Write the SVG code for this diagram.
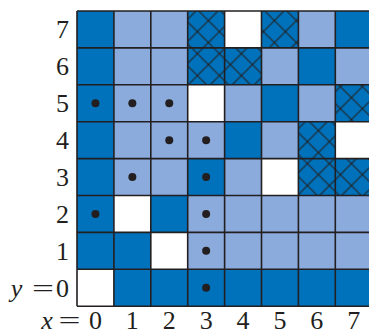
<svg xmlns="http://www.w3.org/2000/svg" width="369" height="331" viewBox="0 0 369 331">
<style>
.d{fill:#0072BC}
.l{fill:#8AABDB}
.w{fill:#FFFFFF}
.h{fill:url(#xh)}
.g{fill:none;stroke:#231F20;stroke-width:1.6}
.dot{fill:#231F20}
text{font-family:"Liberation Serif","DejaVu Serif",serif;font-size:26px;fill:#231F20}
.it{font-style:italic}
</style>
<defs>
<pattern id="xh" patternUnits="userSpaceOnUse" x="10.4" y="20.6" width="22" height="22">
<rect width="22" height="22" fill="#0072BC"/>
<path d="M-2,-2L24,24M20,-2L24,2M-2,20L2,24M-2,24L24,-2M-2,2L2,-2M20,24L24,20" stroke="#231F20" stroke-width="1.1" fill="none"/>
</pattern>
</defs>
<rect width="369" height="331" fill="#FFFFFF"/>
<g id="cells">
<!-- row 7 -->
<g id="c0-7"><rect class="d" x="77" y="11" width="36.9" height="36.9"/></g>
<g id="c1-7"><rect class="l" x="113.9" y="11" width="36.9" height="36.9"/></g>
<g id="c2-7"><rect class="l" x="150.8" y="11" width="36.9" height="36.9"/></g>
<g id="c3-7"><rect class="h" x="187.7" y="11" width="36.9" height="36.9"/></g>
<g id="c4-7"><rect class="w" x="224.6" y="11" width="36.9" height="36.9"/></g>
<g id="c5-7"><rect class="h" x="261.5" y="11" width="36.9" height="36.9"/></g>
<g id="c6-7"><rect class="l" x="298.4" y="11" width="36.9" height="36.9"/></g>
<g id="c7-7"><rect class="d" x="335.3" y="11" width="36.9" height="36.9"/></g>
<!-- row 6 -->
<g id="c0-6"><rect class="d" x="77" y="47.9" width="36.9" height="36.9"/></g>
<g id="c1-6"><rect class="l" x="113.9" y="47.9" width="36.9" height="36.9"/></g>
<g id="c2-6"><rect class="l" x="150.8" y="47.9" width="36.9" height="36.9"/></g>
<g id="c3-6"><rect class="h" x="187.7" y="47.9" width="36.9" height="36.9"/></g>
<g id="c4-6"><rect class="h" x="224.6" y="47.9" width="36.9" height="36.9"/></g>
<g id="c5-6"><rect class="l" x="261.5" y="47.9" width="36.9" height="36.9"/></g>
<g id="c6-6"><rect class="d" x="298.4" y="47.9" width="36.9" height="36.9"/></g>
<g id="c7-6"><rect class="l" x="335.3" y="47.9" width="36.9" height="36.9"/></g>
<!-- row 5 -->
<g id="c0-5"><rect class="d" x="77" y="84.8" width="36.9" height="36.9"/><circle class="dot" cx="95.45" cy="103.25" r="4"/></g>
<g id="c1-5"><rect class="l" x="113.9" y="84.8" width="36.9" height="36.9"/><circle class="dot" cx="132.35" cy="103.25" r="4"/></g>
<g id="c2-5"><rect class="l" x="150.8" y="84.8" width="36.9" height="36.9"/><circle class="dot" cx="169.25" cy="103.25" r="4"/></g>
<g id="c3-5"><rect class="w" x="187.7" y="84.8" width="36.9" height="36.9"/></g>
<g id="c4-5"><rect class="l" x="224.6" y="84.8" width="36.9" height="36.9"/></g>
<g id="c5-5"><rect class="d" x="261.5" y="84.8" width="36.9" height="36.9"/></g>
<g id="c6-5"><rect class="l" x="298.4" y="84.8" width="36.9" height="36.9"/></g>
<g id="c7-5"><rect class="h" x="335.3" y="84.8" width="36.9" height="36.9"/></g>
<!-- row 4 -->
<g id="c0-4"><rect class="d" x="77" y="121.7" width="36.9" height="36.9"/></g>
<g id="c1-4"><rect class="l" x="113.9" y="121.7" width="36.9" height="36.9"/></g>
<g id="c2-4"><rect class="l" x="150.8" y="121.7" width="36.9" height="36.9"/><circle class="dot" cx="169.25" cy="140.15" r="4"/></g>
<g id="c3-4"><rect class="l" x="187.7" y="121.7" width="36.9" height="36.9"/><circle class="dot" cx="206.15" cy="140.15" r="4"/></g>
<g id="c4-4"><rect class="d" x="224.6" y="121.7" width="36.9" height="36.9"/></g>
<g id="c5-4"><rect class="l" x="261.5" y="121.7" width="36.9" height="36.9"/></g>
<g id="c6-4"><rect class="h" x="298.4" y="121.7" width="36.9" height="36.9"/></g>
<g id="c7-4"><rect class="w" x="335.3" y="121.7" width="36.9" height="36.9"/></g>
<!-- row 3 -->
<g id="c0-3"><rect class="d" x="77" y="158.6" width="36.9" height="36.9"/></g>
<g id="c1-3"><rect class="l" x="113.9" y="158.6" width="36.9" height="36.9"/><circle class="dot" cx="132.35" cy="177.05" r="4"/></g>
<g id="c2-3"><rect class="l" x="150.8" y="158.6" width="36.9" height="36.9"/></g>
<g id="c3-3"><rect class="d" x="187.7" y="158.6" width="36.9" height="36.9"/><circle class="dot" cx="206.15" cy="177.05" r="4"/></g>
<g id="c4-3"><rect class="l" x="224.6" y="158.6" width="36.9" height="36.9"/></g>
<g id="c5-3"><rect class="w" x="261.5" y="158.6" width="36.9" height="36.9"/></g>
<g id="c6-3"><rect class="h" x="298.4" y="158.6" width="36.9" height="36.9"/></g>
<g id="c7-3"><rect class="h" x="335.3" y="158.6" width="36.9" height="36.9"/></g>
<!-- row 2 -->
<g id="c0-2"><rect class="d" x="77" y="195.5" width="36.9" height="36.9"/><circle class="dot" cx="95.45" cy="213.95" r="4"/></g>
<g id="c1-2"><rect class="w" x="113.9" y="195.5" width="36.9" height="36.9"/></g>
<g id="c2-2"><rect class="d" x="150.8" y="195.5" width="36.9" height="36.9"/></g>
<g id="c3-2"><rect class="l" x="187.7" y="195.5" width="36.9" height="36.9"/><circle class="dot" cx="206.15" cy="213.95" r="4"/></g>
<g id="c4-2"><rect class="l" x="224.6" y="195.5" width="36.9" height="36.9"/></g>
<g id="c5-2"><rect class="l" x="261.5" y="195.5" width="36.9" height="36.9"/></g>
<g id="c6-2"><rect class="l" x="298.4" y="195.5" width="36.9" height="36.9"/></g>
<g id="c7-2"><rect class="l" x="335.3" y="195.5" width="36.9" height="36.9"/></g>
<!-- row 1 -->
<g id="c0-1"><rect class="d" x="77" y="232.4" width="36.9" height="36.9"/></g>
<g id="c1-1"><rect class="d" x="113.9" y="232.4" width="36.9" height="36.9"/></g>
<g id="c2-1"><rect class="w" x="150.8" y="232.4" width="36.9" height="36.9"/></g>
<g id="c3-1"><rect class="l" x="187.7" y="232.4" width="36.9" height="36.9"/><circle class="dot" cx="206.15" cy="250.85" r="4"/></g>
<g id="c4-1"><rect class="l" x="224.6" y="232.4" width="36.9" height="36.9"/></g>
<g id="c5-1"><rect class="l" x="261.5" y="232.4" width="36.9" height="36.9"/></g>
<g id="c6-1"><rect class="l" x="298.4" y="232.4" width="36.9" height="36.9"/></g>
<g id="c7-1"><rect class="l" x="335.3" y="232.4" width="36.9" height="36.9"/></g>
<!-- row 0 -->
<g id="c0-0"><rect class="w" x="77" y="269.3" width="36.9" height="36.9"/></g>
<g id="c1-0"><rect class="d" x="113.9" y="269.3" width="36.9" height="36.9"/></g>
<g id="c2-0"><rect class="d" x="150.8" y="269.3" width="36.9" height="36.9"/></g>
<g id="c3-0"><rect class="d" x="187.7" y="269.3" width="36.9" height="36.9"/><circle class="dot" cx="206.15" cy="287.75" r="4"/></g>
<g id="c4-0"><rect class="d" x="224.6" y="269.3" width="36.9" height="36.9"/></g>
<g id="c5-0"><rect class="d" x="261.5" y="269.3" width="36.9" height="36.9"/></g>
<g id="c6-0"><rect class="d" x="298.4" y="269.3" width="36.9" height="36.9"/></g>
<g id="c7-0"><rect class="d" x="335.3" y="269.3" width="36.9" height="36.9"/></g>
</g>
<g id="grid">
<path class="g" d="M77,11H372.2M77,47.9H372.2M77,84.8H372.2M77,121.7H372.2M77,158.6H372.2M77,195.5H372.2M77,232.4H372.2M77,269.3H372.2M77,306.2H372.2M77,11V306.2M113.9,11V306.2M150.8,11V306.2M187.7,11V306.2M224.6,11V306.2M261.5,11V306.2M298.4,11V306.2M335.3,11V306.2"/>
</g>
<g id="ylabels" text-anchor="end">
<text x="69" y="38.3">7</text>
<text x="69" y="75.2">6</text>
<text x="69" y="112.1">5</text>
<text x="69" y="149">4</text>
<text x="69" y="185.9">3</text>
<text x="69" y="222.8">2</text>
<text x="69" y="259.7">1</text>
<text x="69" y="296.6">0</text>
<text x="32" y="296.6" text-anchor="start" textLength="22" lengthAdjust="spacingAndGlyphs">=</text>
<text class="it" x="16.5" y="296.6" text-anchor="middle">y</text>
</g>
<g id="xlabels" text-anchor="middle">
<text class="it" x="47" y="329">x</text>
<text x="58.5" y="329" text-anchor="start" textLength="22" lengthAdjust="spacingAndGlyphs">=</text>
<text x="95.45" y="329">0</text>
<text x="132.35" y="329">1</text>
<text x="169.25" y="329">2</text>
<text x="206.15" y="329">3</text>
<text x="243.05" y="329">4</text>
<text x="279.95" y="329">5</text>
<text x="316.85" y="329">6</text>
<text x="353.75" y="329">7</text>
</g>
</svg>
